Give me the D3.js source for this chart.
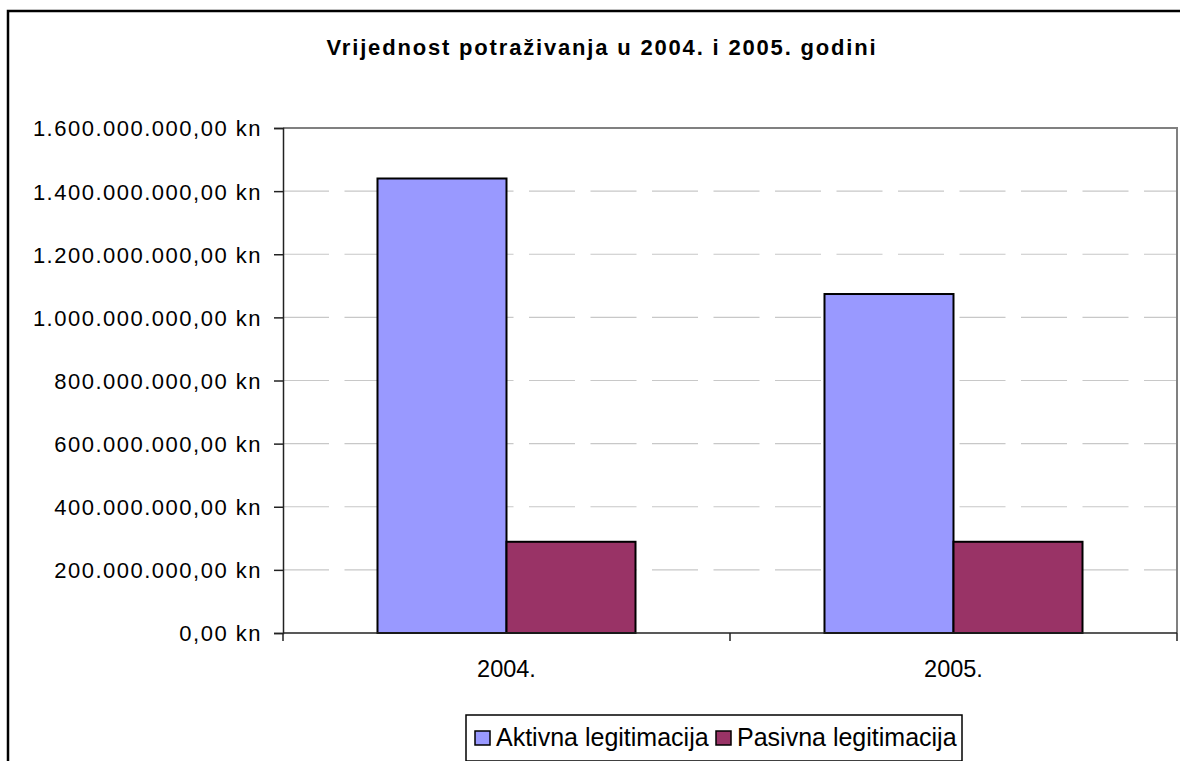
<!DOCTYPE html>
<html>
<head>
<meta charset="utf-8">
<script src="https://cdn.jsdelivr.net/npm/d3@7"></script>
<style>
  body { margin: 0; background: #fff; }
  svg { display: block; }
  text { font-family: "Liberation Sans", Arial, sans-serif; fill: #000; }
</style>
</head>
<body>
<div id="chart"></div>
<script>
// data
var categories = ["2004.", "2005."];
var seriesNames = ["Aktivna legitimacija", "Pasivna legitimacija"];
var aktivna = [1440000000, 1074000000];
var pasivna = [289000000, 289000000];
var yTicks = [0, 200000000, 400000000, 600000000, 800000000, 1000000000, 1200000000, 1400000000, 1600000000];
var colors = ["#9999ff", "#993366"];

var svgWidth = 1180, svgHeight = 761;
var plot = { left: 283, right: 1177, top: 128, bottom: 633 };

var svg = d3.select("#chart").append("svg")
  .attr("width", svgWidth)
  .attr("height", svgHeight);

// outer chart frame (runs off the right / bottom of the page)
svg.append("rect")
  .attr("x", 8).attr("y", 11)
  .attr("width", 1200).attr("height", 800)
  .attr("fill", "none")
  .attr("stroke", "#000")
  .attr("stroke-width", 2.5);

var kn = d3.formatLocale({ decimal: ",", thousands: ".", grouping: [3], currency: ["", " kn"] });
var fmt = kn.format("$,.2f");

var x0 = d3.scaleBand()
  .domain(categories)
  .range([plot.left, plot.right])
  .paddingInner(0.4228)
  .paddingOuter(0.2114);

var x1 = d3.scaleBand()
  .domain(seriesNames)
  .range([0, x0.bandwidth()]);

var y = d3.scaleLinear()
  .domain([0, 1600000000])
  .range([plot.bottom, plot.top]);

// gridlines
svg.append("g")
  .selectAll("line")
  .data(yTicks.filter(function(d) { return d > 0 && d < 1600000000; }))
  .enter().append("line")
  .attr("x1", plot.left).attr("x2", plot.right)
  .attr("y1", function(d) { return y(d); })
  .attr("y2", function(d) { return y(d); })
  .attr("stroke", "#c8c8c8")
  .attr("stroke-width", 1.2)
  .attr("stroke-dasharray", "46,15.5");

// plot area border top/right
svg.append("path")
  .attr("d", "M" + plot.left + "," + y(1600000000) + "H" + plot.right + "V" + plot.bottom)
  .attr("fill", "none")
  .attr("stroke", "#808080")
  .attr("stroke-width", 2);

// bars
var rows = categories.map(function(c, i) {
  return { cat: c, values: [aktivna[i], pasivna[i]] };
});

svg.append("g")
  .selectAll("g")
  .data(rows)
  .enter().append("g")
  .attr("transform", function(d) { return "translate(" + x0(d.cat) + ",0)"; })
  .selectAll("rect")
  .data(function(d) { return d.values.map(function(v, j) { return { key: seriesNames[j], value: v, j: j }; }); })
  .enter().append("rect")
  .attr("x", function(d) { return x1(d.key); })
  .attr("y", function(d) { return y(d.value); })
  .attr("width", x1.bandwidth())
  .attr("height", function(d) { return y(0) - y(d.value); })
  .attr("fill", function(d) { return colors[d.j]; })
  .attr("stroke", "#000")
  .attr("stroke-width", 2);

// y axis
var yAxis = svg.append("g")
  .attr("transform", "translate(" + plot.left + ",0)")
  .call(d3.axisLeft(y).tickValues(yTicks).tickFormat(fmt).tickSize(9).tickPadding(12));
yAxis.attr("font-family", null);
yAxis.select(".domain").attr("stroke", "#222").attr("stroke-width", 1.5);
yAxis.selectAll(".tick line").attr("stroke", "#222").attr("stroke-width", 1.5);
yAxis.selectAll(".tick text")
  .attr("font-size", 22)
  .attr("letter-spacing", 1.5)
  .attr("dy", "0.36em");

// x axis line + boundary ticks
var xAxis = svg.append("g");
xAxis.append("line")
  .attr("x1", plot.left).attr("x2", plot.right)
  .attr("y1", plot.bottom).attr("y2", plot.bottom)
  .attr("stroke", "#222").attr("stroke-width", 1.5);
var bounds = [plot.left].concat(categories.map(function(c) { return x0(c) + x0.bandwidth() + x0.step() * x0.paddingInner() / 2; }));
xAxis.selectAll(".btick")
  .data(bounds)
  .enter().append("line")
  .attr("x1", function(d) { return d; }).attr("x2", function(d) { return d; })
  .attr("y1", plot.bottom).attr("y2", plot.bottom + 8)
  .attr("stroke", "#222").attr("stroke-width", 1.5);
xAxis.selectAll(".xlab")
  .data(categories)
  .enter().append("text")
  .attr("x", function(d) { return x0(d) + x0.bandwidth() / 2; })
  .attr("y", 677)
  .attr("text-anchor", "middle")
  .attr("font-size", 23.5)
  .text(function(d) { return d; });

// title
var title = svg.append("text")
  .attr("x", 602)
  .attr("y", 55)
  .attr("text-anchor", "middle")
  .attr("font-size", 22)
  .attr("font-weight", "bold")
  .text("Vrijednost potraživanja u 2004. i 2005. godini");
var tl = title.node().getComputedTextLength();
var tn = title.text().length;
title.attr("letter-spacing", Math.max(0, (549 - tl) / (tn - 1)));

// legend
var legend = svg.append("g");
legend.append("rect")
  .attr("x", 466).attr("y", 715)
  .attr("width", 496).attr("height", 46)
  .attr("fill", "#fff")
  .attr("stroke", "#000")
  .attr("stroke-width", 1.5);
var legendX = [475, 716];
var items = legend.selectAll(".item")
  .data(seriesNames)
  .enter().append("g")
  .attr("transform", function(d, i) { return "translate(" + legendX[i] + ",731)"; });
items.append("rect")
  .attr("width", 15).attr("height", 14)
  .attr("fill", function(d, i) { return colors[i]; })
  .attr("stroke", "#000")
  .attr("stroke-width", 1.5);
items.append("text")
  .attr("x", 21)
  .attr("y", 15)
  .attr("font-size", 25)
  .text(function(d) { return d; });
</script>
</body>
</html>
